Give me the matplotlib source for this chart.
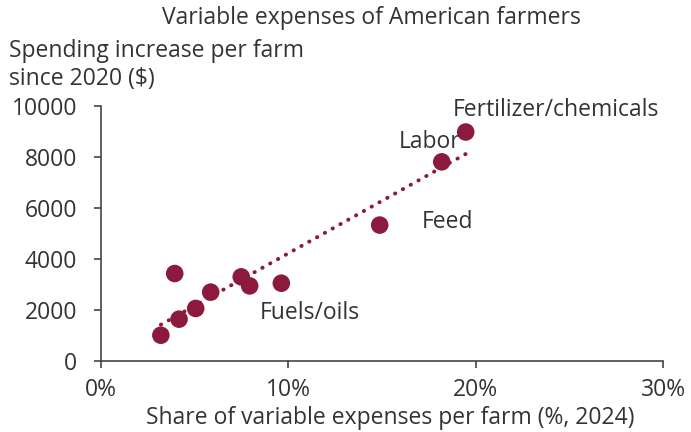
import matplotlib
matplotlib.use("Agg")
import matplotlib.pyplot as plt
import numpy as np
from matplotlib.ticker import FuncFormatter

plt.rcParams['font.family'] = ['Open Sans', 'DejaVu Sans']

share_pct = [3.2, 4.17, 5.06, 5.86, 3.94, 7.49, 7.94, 9.63, 14.88, 18.19, 19.47]
increase = [1010, 1640, 2060, 2700, 3430, 3300, 2945, 3050, 5330, 7810, 8980]
labels = ["Fertilizer/chemicals", "Labor", "Feed", "Fuels/oils"]
label_pos = [(18.8, 9850), (15.9, 8600), (17.1, 5450), (8.5, 1880)]

col = '#8C1A3C'
txt = '#333333'
fs = 16.5

fig = plt.figure(figsize=(6.91, 4.32), dpi=100)
ax = fig.add_axes([0.146, 0.1644, 0.8135, 0.5902])

x = np.array(share_pct)
y = np.array(increase)
m, b = np.polyfit(x, y, 1)
xs = np.array([x.min(), x.max()])
ax.plot(xs, m * xs + b, color=col, lw=2.8, linestyle=(0, (0.1, 2.2)),
        dash_capstyle='round', zorder=2)
ax.scatter(x, y, s=160, color=col, edgecolors='none', zorder=3)

for t, (px, py) in zip(labels, label_pos):
    ax.text(px, py, t, fontsize=fs, color=txt, va='center', ha='left')

ax.set_xlim(0, 30)
ax.set_ylim(0, 10000)
ax.set_xticks([0, 10, 20, 30])
ax.set_yticks([0, 2000, 4000, 6000, 8000, 10000])
ax.xaxis.set_major_formatter(FuncFormatter(lambda v, p: f"{v:.0f}%"))
ax.yaxis.set_major_formatter(FuncFormatter(lambda v, p: f"{v:.0f}"))
ax.tick_params(axis='both', labelsize=fs, colors='#444444', labelcolor=txt,
               length=5, width=1.2, direction='out')
ax.tick_params(axis='y', pad=12)
ax.tick_params(axis='x', pad=7)
for s in ['top', 'right']:
    ax.spines[s].set_visible(False)
for s in ['left', 'bottom']:
    ax.spines[s].set_color('#444444')
    ax.spines[s].set_linewidth(1.2)

ax.set_xlabel("Share of variable expenses per farm (%, 2024)", fontsize=fs,
              color=txt, labelpad=1)
ax.xaxis.set_label_coords(0.515, -0.175)
fig.text(0.538, 0.958, "Variable expenses of American farmers", fontsize=fs,
         color=txt, ha='center', va='center')
fig.text(0.013, 0.85, "Spending increase per farm\nsince 2020 ($)", fontsize=fs,
         color=txt, ha='left', va='center', linespacing=1.25)

fig.savefig("out.png", dpi=100)
